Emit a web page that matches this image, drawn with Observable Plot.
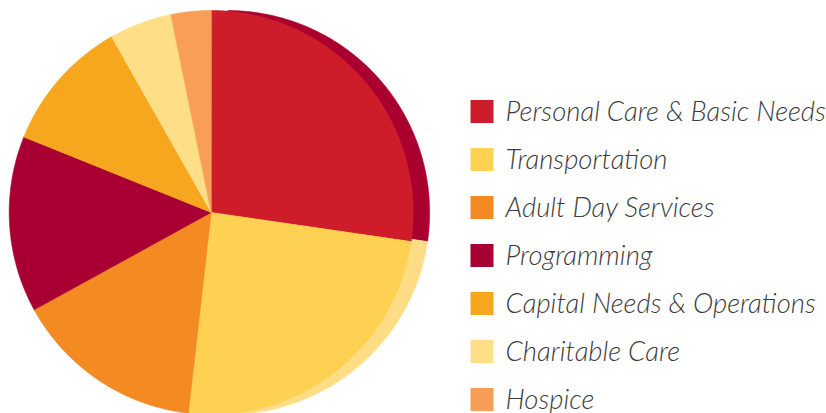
<!DOCTYPE html>
<html>
<head>
<meta charset="utf-8">
<script src="https://cdn.jsdelivr.net/npm/d3@7"></script>
<script src="https://cdn.jsdelivr.net/npm/@observablehq/plot@0.6"></script>
<style>
  html, body { margin: 0; padding: 0; background: #fff; }
  #chart { position: relative; width: 826px; height: 413px; overflow: hidden; }
  #chart svg { position: absolute; top: 0; }
</style>
</head>
<body>
<div id="chart"></div>
<script>
// ---- data ----
const categories = [
  "Personal Care & Basic Needs",
  "Transportation",
  "Adult Day Services",
  "Programming",
  "Capital Needs & Operations",
  "Charitable Care",
  "Hospice"
];
const shares = [27.3, 24.5, 15.2, 14.1, 10.7, 5.0, 3.2];
const colors = ["#cf1c2b", "#ffd153", "#f38a22", "#a80032", "#f7a71d", "#fedf88", "#f99e56"];
const shadowColors = ["#a9002f", "#fedd86"]; // rim shading of the first two slices

// ---- build slice polygons from the shares ----
const arcs = d3.pie().sort(null).value(d => d)(shares);
function slicePoints(arc, cat) {
  const pts = [{x: 0, y: 0, cat}];
  const n = Math.max(2, Math.ceil((arc.endAngle - arc.startAngle) / 0.005));
  for (let i = 0; i <= n; i++) {
    const a = arc.startAngle + (arc.endAngle - arc.startAngle) * i / n;
    pts.push({x: Math.sin(a), y: Math.cos(a), cat});
  }
  return pts;
}
const pieData = arcs.flatMap((a, i) => slicePoints(a, categories[i]));

const colorScale = {domain: categories, range: colors};

const pie = Plot.plot({
  width: 826,
  height: 413,
  margin: 0,
  x: {domain: [-1, 1], range: [8.7, 412.7], axis: null},
  y: {domain: [-1, 1], range: [414, 10], axis: null},
  color: colorScale,
  marks: [
    ...[0, 1].map(i =>
      Plot.line(slicePoints(arcs[i], categories[i]), {
        x: "x", y: "y", curve: "linear-closed",
        fill: shadowColors[i], stroke: shadowColors[i], strokeWidth: 0.5, dx: 16.5
      })
    ),
    Plot.line(pieData, {
      x: "x", y: "y", z: "cat", curve: "linear-closed",
      fill: "cat", stroke: "cat", strokeWidth: 0.6
    })
  ]
});
pie.style.left = "0px";

const legend = Plot.plot({
  width: 356,
  height: 413,
  margin: 0,
  y: {type: "point", domain: categories, range: [110.5, 398.5], padding: 0, axis: null},
  color: colorScale,
  marks: [
    Plot.dot(categories, {
      y: d => d, frameAnchor: "left", dx: 11.5,
      symbol: "square", r: 12.98, fill: d => d, stroke: null
    }),
    Plot.text(categories, {
      y: d => d, text: d => d, frameAnchor: "left", dx: 35, dy: 1,
      textAnchor: "start", fontSize: 27.5, fontStyle: "italic", fontWeight: 300,
      fill: "#3d3d3d", fontFamily: "Lato"
    })
  ]
});
legend.style.left = "470px";
legend.style.overflow = "visible";

document.getElementById("chart").append(pie, legend);
</script>
</body>
</html>
